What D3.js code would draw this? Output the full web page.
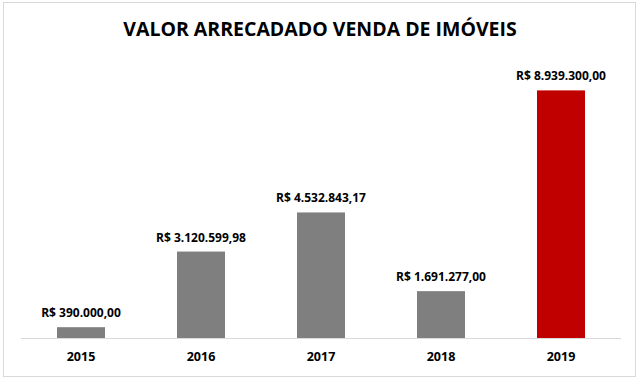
<!DOCTYPE html>
<html>
<head>
<meta charset="utf-8">
<script src="https://cdn.jsdelivr.net/npm/d3@7"></script>
<style>
  body { margin: 0; background: #fff; }
  text { font-family: "Open Sans", "Noto Sans", sans-serif; font-weight: bold; fill: #000; }
</style>
</head>
<body>
<div id="chart"></div>
<script>
// Data
const years = ["2015", "2016", "2017", "2018", "2019"];
const values = [390000.00, 3120599.98, 4532843.17, 1691277.00, 8939300.00];
const labels = ["R$ 390.000,00", "R$ 3.120.599,98", "R$ 4.532.843,17", "R$ 1.691.277,00", "R$ 8.939.300,00"];
const colors = ["#7f7f7f", "#7f7f7f", "#7f7f7f", "#7f7f7f", "#c00000"];

const width = 640, height = 381;

const svg = d3.select("#chart")
    .append("svg")
    .attr("width", width)
    .attr("height", height);

// Chart border
svg.append("rect")
    .attr("x", 3.5)
    .attr("y", 2.5)
    .attr("width", 632)
    .attr("height", 374)
    .attr("fill", "#fff")
    .attr("stroke", "#d9d9d9")
    .attr("stroke-width", 1);

// Scales
const xScale = d3.scaleBand()
    .domain(years)
    .range([21, 621])
    .paddingInner(0.6)
    .paddingOuter(0.3);

const yScale = d3.scaleLinear()
    .domain([0, 10000000])
    .range([338, 61]);

// Bars
svg.selectAll(".bar")
    .data(years)
    .join("rect")
    .attr("class", "bar")
    .attr("x", d => xScale(d))
    .attr("y", (d, i) => yScale(values[i]))
    .attr("width", xScale.bandwidth())
    .attr("height", (d, i) => yScale(0) - yScale(values[i]))
    .attr("fill", (d, i) => colors[i]);

// Baseline
svg.append("line")
    .attr("x1", 21)
    .attr("x2", 621)
    .attr("y1", 338.5)
    .attr("y2", 338.5)
    .attr("stroke", "#d9d9d9")
    .attr("stroke-width", 1);

// Category labels
svg.selectAll(".year")
    .data(years)
    .join("text")
    .attr("class", "year")
    .attr("x", d => xScale(d) + xScale.bandwidth() / 2)
    .attr("y", 361)
    .attr("text-anchor", "middle")
    .style("font-size", "12.5px")
    .text(d => d);

// Value labels
svg.selectAll(".value")
    .data(years)
    .join("text")
    .attr("class", "value")
    .attr("x", d => xScale(d) + xScale.bandwidth() / 2)
    .attr("y", (d, i) => yScale(values[i]) - 10)
    .attr("text-anchor", "middle")
    .style("font-size", "12px")
    .text((d, i) => labels[i]);

// Title
svg.append("text")
    .attr("x", 320)
    .attr("y", 36)
    .attr("text-anchor", "middle")
    .style("font-size", "19.5px")
    .text("VALOR ARRECADADO VENDA DE IMÓVEIS");
</script>
</body>
</html>
